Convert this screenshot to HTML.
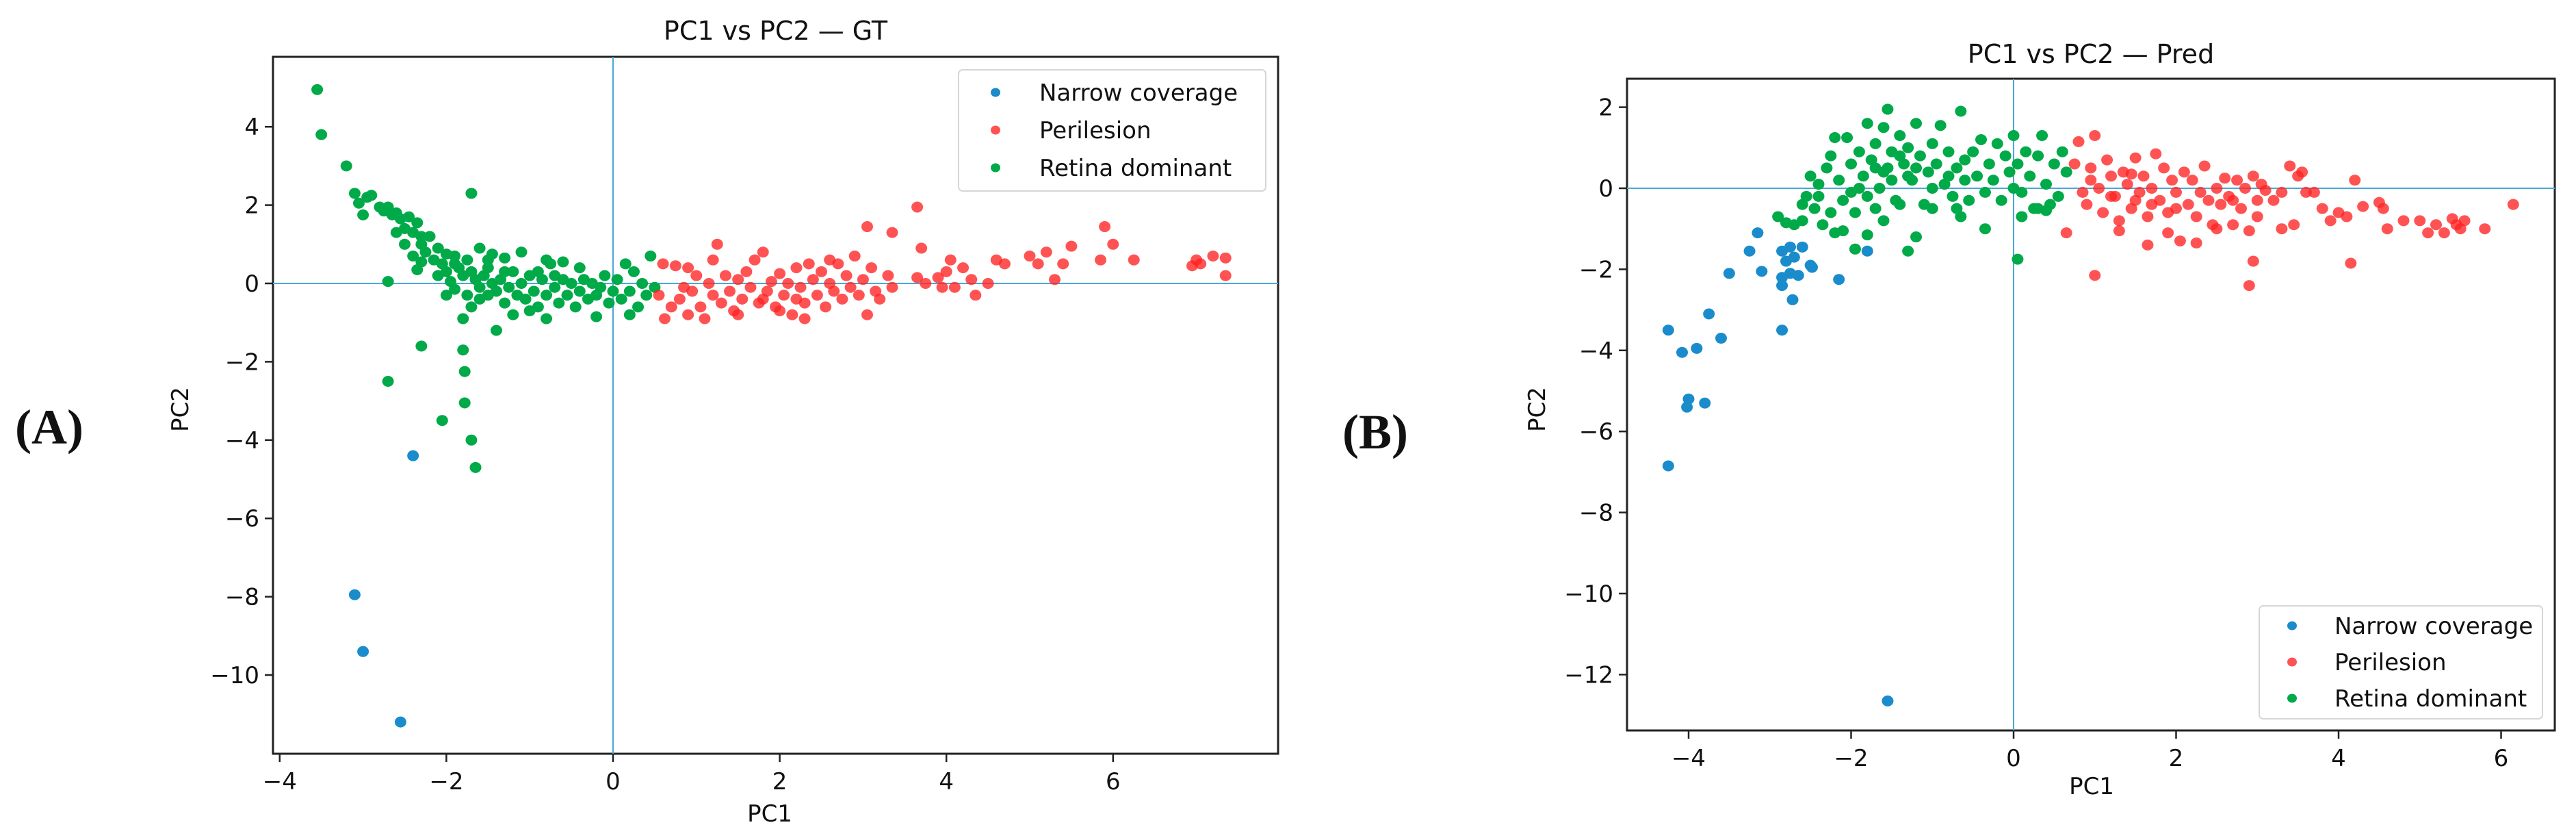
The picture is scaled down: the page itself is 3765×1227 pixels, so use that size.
<!DOCTYPE html>
<html><head><meta charset="utf-8">
<style>
html,body{margin:0;padding:0;background:#fff;}
svg{display:block;}
text{font-family:"DejaVu Sans","Liberation Sans",sans-serif;fill:#111;}
</style></head>
<body>
<svg id="fig" width="3765" height="1227" viewBox="0 0 3765 1227" xmlns="http://www.w3.org/2000/svg"></svg>
<script>
// ---------- Panel A (GT) data ----------
const gtBlueX = [-2.4,-3.1,-3.0,-2.55];
const gtBlueY = [-4.4,-7.95,-9.4,-11.2];
const gtGreenX = [-3.55,-3.5,-3.2,-3.1,-3.05,-3.0,-2.95,-2.9,-2.8,-2.75,-2.7,-2.65,-2.6,-2.55,-2.5,-2.45,-2.4,-2.35,-2.3,-2.3,-2.25,-2.2,-2.15,-2.1,-2.05,-2.0,-2.4,-2.35,-2.3,-1.7,-2.7,-1.9,-1.85,-1.8,-1.75,-1.7,-1.65,-1.6,-1.55,-1.5,-1.45,-1.4,-1.35,-1.3,-1.25,-1.2,-1.15,-1.1,-1.05,-1.0,-0.95,-0.9,-0.85,-0.8,-0.75,-0.7,-0.65,-0.6,-0.55,-0.5,-0.45,-0.4,-0.35,-0.3,-0.25,-0.2,-0.15,-0.1,-0.05,0.0,0.05,0.1,0.15,0.2,0.25,0.3,0.35,0.4,0.45,0.5,-1.1,-1.5,-1.6,-1.45,-0.8,-1.3,-0.6,-2.0,-1.8,-1.7,-1.4,-1.2,-1.0,-0.8,-0.2,0.2,-1.9,-2.1,-1.95,-1.75,-1.5,-2.6,-2.5,-2.0,-1.9,-1.6,-1.3,-0.9,-0.7,-0.4,-2.3,-1.8,-2.7,-1.78,-2.05,-1.78,-1.7,-1.65];
const gtGreenY = [4.95,3.8,3.0,2.3,2.05,1.75,2.2,2.25,1.95,1.85,1.95,1.75,1.8,1.65,1.4,1.7,1.3,1.55,1.2,1.0,0.8,1.2,0.6,0.9,0.5,0.75,0.7,0.35,0.55,2.3,0.05,0.7,0.4,0.2,0.6,0.3,0.1,-0.1,0.2,-0.3,0.0,-0.2,0.1,-0.5,-0.1,0.3,-0.3,0.0,-0.4,0.2,-0.2,-0.6,0.1,-0.3,0.5,-0.1,-0.5,0.1,-0.3,0.0,-0.6,-0.2,0.1,-0.4,0.0,-0.3,-0.1,0.2,-0.5,-0.2,0.1,-0.4,0.5,-0.2,0.3,-0.6,0.0,-0.3,0.7,-0.1,0.8,0.6,0.9,0.75,0.6,0.65,0.55,-0.3,-0.9,-0.6,-1.2,-0.8,-0.7,-0.9,-0.85,-0.8,-0.15,0.2,0.05,-0.3,0.4,1.3,1.0,0.3,0.5,-0.4,0.3,0.3,0.2,0.4,-1.6,-1.7,-2.5,-2.25,-3.5,-3.05,-4.0,-4.7];
const gtRedX = [0.55,0.6,0.62,0.7,0.75,0.8,0.85,0.9,0.95,1.0,1.05,1.1,1.15,1.2,1.25,1.3,1.35,1.4,1.45,1.5,1.55,1.6,1.65,1.7,1.75,1.8,1.85,1.9,1.95,2.0,2.05,2.1,2.15,2.2,2.25,2.3,2.35,2.4,2.45,2.5,2.55,2.6,2.65,2.7,2.75,2.8,2.85,2.9,2.95,3.0,3.05,3.1,3.15,3.2,3.3,3.35,1.5,2.0,2.3,1.2,0.9,2.6,2.2,1.8,3.05,3.35,3.65,3.7,3.65,3.75,3.9,3.95,4.0,4.05,4.1,4.2,4.3,4.35,4.5,4.6,4.7,5.0,5.1,5.2,5.3,5.4,5.5,5.9,5.85,6.0,6.25,6.95,7.0,7.05,7.2,7.35,7.35];
const gtRedY = [-0.3,0.5,-0.9,-0.6,0.45,-0.4,-0.1,-0.8,-0.2,0.2,-0.6,-0.9,0.0,-0.3,1.0,-0.5,0.2,-0.2,-0.7,0.1,-0.4,0.3,-0.1,0.6,-0.5,0.8,-0.2,0.05,-0.6,0.25,-0.3,0.0,-0.8,0.4,-0.1,-0.5,0.5,0.1,-0.3,0.3,-0.6,0.0,-0.2,0.5,-0.4,0.2,-0.1,0.7,-0.3,0.1,-0.8,0.4,-0.2,-0.4,0.2,-0.1,-0.8,-0.7,-0.9,0.6,0.4,0.6,-0.4,-0.4,1.45,1.3,1.95,0.9,0.15,0.0,0.15,-0.1,0.3,0.6,-0.1,0.4,0.1,-0.3,0.0,0.6,0.5,0.7,0.5,0.8,0.1,0.5,0.95,1.45,0.6,1.0,0.6,0.45,0.6,0.5,0.7,0.65,0.2];
const gtXTicks = [-4,-2,0,2,4,6];
const gtYTicks = [4,2,0,-2,-4,-6,-8,-10];

// ---------- Panel B (Pred) data ----------
const prBlueX = [-4.25,-4.08,-3.9,-3.75,-3.6,-3.5,-4.25,-4.0,-4.02,-3.8,-3.1,-2.85,-2.75,-2.6,-2.85,-2.85,-2.75,-2.72,-2.85,-2.5,-2.48,-2.65,-2.7,-2.8,-3.25,-3.15,-2.15,-1.8,-1.55];
const prBlueY = [-3.5,-4.05,-3.95,-3.1,-3.7,-2.1,-6.85,-5.2,-5.4,-5.3,-2.05,-1.55,-1.45,-1.45,-2.2,-2.4,-2.1,-2.75,-3.5,-1.9,-1.95,-2.15,-1.7,-1.8,-1.55,-1.1,-2.25,-1.55,-12.65];
const prGreenX = [-2.9,-2.8,-2.7,-2.6,-2.6,-2.55,-2.5,-2.45,-2.4,-2.35,-2.3,-2.25,-2.2,-2.2,-2.15,-2.1,-2.05,-2.0,-1.95,-1.9,-1.85,-1.8,-1.8,-1.75,-1.7,-1.65,-1.6,-1.55,-1.55,-1.5,-1.45,-1.4,-1.35,-1.3,-1.25,-1.2,-1.15,-1.1,-1.05,-1.0,-0.95,-0.9,-0.85,-0.8,-0.75,-0.7,-0.65,-0.6,-0.55,-0.5,-0.45,-0.4,-0.35,-0.3,-0.25,-0.2,-0.15,-0.1,-0.05,0.0,0.0,0.05,0.1,0.15,0.2,0.25,0.3,0.35,0.4,0.45,0.5,0.55,0.6,0.65,-1.6,-1.7,-1.5,-1.3,-1.9,-2.0,-1.4,-1.2,-1.0,-0.8,-0.6,-1.7,-1.6,-2.1,-1.4,-1.2,-1.0,-0.7,-0.35,-0.65,-1.95,-1.8,-1.3,0.05,0.1,0.4,0.3,-2.25,-2.4];
const prGreenY = [-0.7,-0.85,-0.9,-0.8,-0.4,-0.2,0.3,-0.5,0.1,-0.9,0.5,0.8,-1.1,1.25,0.2,-0.3,1.25,0.6,-0.6,0.9,0.3,1.6,-0.2,0.7,1.1,0.0,1.5,1.95,0.5,0.9,-0.3,1.3,0.6,1.0,0.2,1.6,0.8,-0.4,0.4,1.1,0.6,1.55,0.1,0.9,-0.2,0.5,1.9,0.7,-0.3,0.9,0.3,1.2,-0.1,0.6,0.2,1.1,-0.3,0.8,0.4,1.3,0.0,0.6,-0.1,0.9,0.3,-0.5,0.8,1.3,0.1,-0.4,0.6,-0.2,0.9,0.4,0.4,0.5,0.2,0.3,0.0,-0.1,0.8,0.5,0.0,0.3,0.2,-0.5,-0.8,-1.05,-0.4,-1.2,-0.5,-0.5,-1.0,-0.7,-1.5,-1.15,-1.55,-1.75,-0.7,-0.55,-0.5,-0.6,-0.2];
const prRedX = [0.75,0.8,0.85,0.9,0.95,1.0,1.05,1.1,1.15,1.2,1.25,1.3,1.35,1.4,1.45,1.5,1.55,1.6,1.65,1.7,1.75,1.8,1.85,1.9,1.95,2.0,2.05,2.1,2.15,2.2,2.25,2.3,2.35,2.4,2.45,2.5,2.55,2.6,2.65,2.7,2.75,2.8,2.85,2.9,2.95,3.0,3.05,3.1,3.2,3.3,3.4,3.5,3.55,3.6,3.7,3.8,3.9,4.0,4.1,4.2,4.3,4.5,4.6,4.8,5.0,5.1,5.3,5.4,5.45,5.5,5.55,5.8,6.15,1.0,1.65,2.25,2.95,2.9,4.15,0.65,1.3,1.9,2.5,3.45,4.55,5.2,1.2,1.5,1.7,2.0,2.7,0.95,1.45,3.0,3.3];
const prRedY = [0.6,1.15,-0.1,-0.4,0.5,1.3,0.0,-0.6,0.7,0.3,-0.2,-0.8,0.4,0.1,-0.5,0.75,-0.1,0.3,-0.7,0.0,0.85,-0.3,0.5,-0.6,0.2,-0.1,-1.3,0.4,-0.4,0.2,-0.7,-0.1,0.55,-0.3,-0.9,0.0,-0.4,0.25,-0.2,-0.9,0.2,-0.5,0.0,-1.05,0.3,-0.3,0.1,-0.05,-0.3,-0.1,0.55,0.3,0.4,-0.1,-0.1,-0.5,-0.8,-0.6,-0.7,0.2,-0.45,-0.35,-1.0,-0.8,-0.8,-1.1,-1.1,-0.75,-0.9,-1.0,-0.8,-1.0,-0.4,-2.15,-1.4,-1.35,-1.8,-2.4,-1.85,-1.1,-1.05,-1.1,-1.0,-0.9,-0.5,-0.9,-0.2,-0.3,-0.4,-0.5,-0.3,0.2,0.35,-0.7,-1.0];
const prXTicks = [-4,-2,0,2,4,6];
const prYTicks = [2,0,-2,-4,-6,-8,-10,-12];

const legendLabels = ["Narrow coverage","Perilesion","Retina dominant"];
const COLORS = {blue:"#1a8ccc", red:"rgba(255,35,35,0.78)", green:"#00aa48"};

const NS="http://www.w3.org/2000/svg";
const svg=document.getElementById('fig');
function mk(tag,attrs,parent){const e=document.createElementNS(NS,tag);for(const k in attrs)e.setAttribute(k,attrs[k]);(parent||svg).appendChild(e);return e;}

function panel(cfg){
  const g=mk('g',{});
  
  
  const sx=v=>cfg.x0+v*cfg.ux, sy=v=>cfg.y0-v*cfg.uy;
  const fr=mk('rect',{x:cfg.L,y:cfg.T,width:cfg.R-cfg.L,height:cfg.B-cfg.T,fill:'none',stroke:'#222','stroke-width':3},g);
  
  
  const hl=mk('line',{x1:cfg.L,x2:cfg.R,y1:sy(0),y2:sy(0),stroke:'#4aa8d8','stroke-width':2},g);
  
  
  const vl=mk('line',{x1:sx(0),x2:sx(0),y1:cfg.T,y2:cfg.B,stroke:'#4aa8d8','stroke-width':2},g);
  
  
  cfg.xt.forEach(t=>{
    const tl=mk('line',{x1:sx(t),x2:sx(t),y1:cfg.B,y2:cfg.B+12,stroke:'#222','stroke-width':2.5},g);
    
    
    const tx=mk('text',{x:sx(t),y:cfg.B+52,'text-anchor':'middle','font-size':34},g);
    tx.textContent=(t<0?'\u2212'+Math.abs(t):String(t));
    
    
  });
  cfg.yt.forEach(t=>{
    const tl=mk('line',{x1:cfg.L-12,x2:cfg.L,y1:sy(t),y2:sy(t),stroke:'#222','stroke-width':2.5},g);
    
    
    const tx=mk('text',{x:cfg.L-20,y:sy(t)+12,'text-anchor':'end','font-size':34},g);
    tx.textContent=(t<0?'\u2212'+Math.abs(t):String(t));
    
    
  });
  const series=[[cfg.gx,cfg.gy,COLORS.green,'retina-dominant-point'],[cfg.rx,cfg.ry,COLORS.red,'perilesion-point'],[cfg.bx,cfg.by,COLORS.blue,'narrow-coverage-point']];
  cfg.order.forEach(i=>{
    const [xs,ys,c,nm]=series[i];
    xs.forEach((v,j)=>{
      const p=mk('ellipse',{cx:sx(v),cy:sy(ys[j]),rx:8.5,ry:8,fill:c},g);
      
      
    });
  });
  const ti=mk('text',{x:(cfg.L+cfg.R)/2,y:cfg.titleY,'text-anchor':'middle','font-size':38},g);
  ti.textContent=cfg.title;
  
  
  const xl=mk('text',{x:cfg.xlX,y:cfg.xlY,'text-anchor':'middle','font-size':34},g);
  xl.textContent='PC1';
  
  
  const yl=mk('text',{x:cfg.ylX,y:598,'text-anchor':'middle','font-size':34,transform:`rotate(-90 ${cfg.ylX} 598)`},g);
  yl.textContent='PC2';
  
  
  const pl=mk('text',{x:cfg.plX,y:cfg.plY,'font-size':72,'font-weight':'bold',style:'font-family:"Liberation Serif",serif'},g);
  pl.textContent=cfg.letter;
  
  
  const lg=mk('g',{},g);
  
  
  mk('rect',{x:cfg.lgL,y:cfg.lgT,width:cfg.lgW,height:cfg.lgH,rx:6,fill:'rgba(255,255,255,0.85)',stroke:'#d6d6d6','stroke-width':2},lg);
  const lc=[COLORS.blue,COLORS.red,COLORS.green];
  legendLabels.forEach((s,i)=>{
    const yy=cfg.lgT+cfg.lgFirst+i*cfg.lgStep;
    const ent=mk('g',{},lg);
    
    
    mk('ellipse',{cx:cfg.lgL+cfg.lgMk,cy:yy,rx:7,ry:6.5,fill:lc[i]},ent);
    const t=mk('text',{x:cfg.lgL+cfg.lgTx,y:yy+12,'font-size':34},ent);
    t.textContent=s;
  });
}

panel({name:'panel-a-gt',x0:896,ux:121.8,y0:414,uy:57.2,L:399,R:1868,T:83,B:1101,
  xt:gtXTicks,yt:gtYTicks,gx:gtGreenX,gy:gtGreenY,rx:gtRedX,ry:gtRedY,bx:gtBlueX,by:gtBlueY,order:[0,1,2],
  title:'PC1 vs PC2 \u2014 GT',titleY:58,xlX:1125,xlY:1200,ylX:275,plX:22,plY:648,letter:'(A)',
  lgL:1401,lgT:102,lgW:449,lgH:177,lgFirst:33,lgStep:55,lgMk:54,lgTx:118});
panel({name:'panel-b-pred',x0:2943,ux:118.75,y0:275,uy:59.2,L:2378,R:3734,T:115,B:1067,
  xt:prXTicks,yt:prYTicks,gx:prGreenX,gy:prGreenY,rx:prRedX,ry:prRedY,bx:prBlueX,by:prBlueY,order:[1,0,2],
  title:'PC1 vs PC2 \u2014 Pred',titleY:92,xlX:3057,xlY:1160,ylX:2258,plX:1962,plY:655,letter:'(B)',
  lgL:3302,lgT:885,lgW:414,lgH:165,lgFirst:29,lgStep:53,lgMk:48,lgTx:110});
</script>
</body></html>
